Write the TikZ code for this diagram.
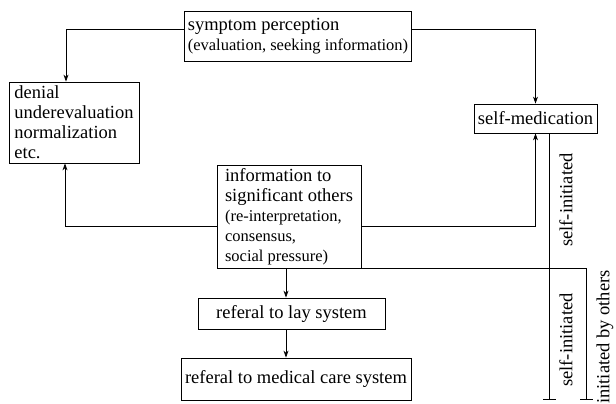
\documentclass[tikz,border=0pt]{standalone}
\usepackage{fontspec}
\setmainfont{Liberation Serif}
\usepackage{tikz}
\usetikzlibrary{arrows.meta}

\newcommand{\boxfont}{\fontsize{18.5}{20}\selectfont}
\newcommand{\notefont}{\fontsize{16.5}{18}\selectfont}

\begin{document}
\begin{tikzpicture}[x=1pt,y=-1pt,>={Stealth[length=7pt,width=5pt]},line width=0.8pt]
    \tikzstyle{box}=[draw,rectangle,inner sep=3pt,font=\boxfont]
    \tikzstyle{left box}=[box,align=left]
    \tikzstyle{side label}=[rotate=90,font=\boxfont,inner sep=0pt]
    \tikzstyle{stop}=[-{Bar[width=13pt]}]

    \useasboundingbox (0,0) rectangle (616,404);

    % Draw the boxes
    \node[left box,minimum width=226pt,minimum height=50pt] (symp) at (298,36)
        {symptom perception\\{\notefont (evaluation, seeking information)}};
    \node[left box,minimum width=130pt,minimum height=81pt] (denial) at (74,122.5)
        {denial\\underevaluation\\normalization\\etc.};
    \node[box,minimum width=123pt,minimum height=29pt] (selfmed) at (535.5,118.5) {self-medication};
    \node[left box,minimum width=144pt,minimum height=100pt] (info) at (289,217)
        {information to\\significant others\\{\notefont (re-interpretation,}\\{\notefont consensus,}\\{\notefont social pressure)}};
    \node[box,minimum width=187pt,minimum height=31pt] (lay) at (291.5,313.5) {referal to lay system};
    \node[box,minimum width=230pt,minimum height=42pt] (medical) at (296,379) {referal to medical care system};

    % Free ends of the two right lines
    \coordinate (end1) at (549,400);
    \coordinate (end2) at (586,400);
    \coordinate (down) at ([xshift=-3pt]info.south);

    % Connect the boxes
    \draw[->] ([yshift=7pt]symp.west) -| ([xshift=-8pt]denial.north);
    \draw[->] ([yshift=7pt]symp.east) -| (selfmed.north);
    \draw[->] ([yshift=-9pt]info.west) -| ([xshift=-9pt]denial.south);
    \draw[->] ([yshift=-9pt]info.east) -| (selfmed.south);
    \draw[->] (down) -- (down |- lay.north);
    \draw[->] (down |- lay.south) -- (down |- medical.north);
    \draw[stop] ([xshift=13.5pt]selfmed.south) -- (end1);
    \draw[stop] (info.south east) -| (end2);

    % Annotate the right lines
    \node[side label] (si1) at (566,200) {self-initiated};
    \node[side label] (si2) at (566,340) {self-initiated};
    \node[side label] (others) at (605,337) {initiated by others};
\end{tikzpicture}
\end{document}
